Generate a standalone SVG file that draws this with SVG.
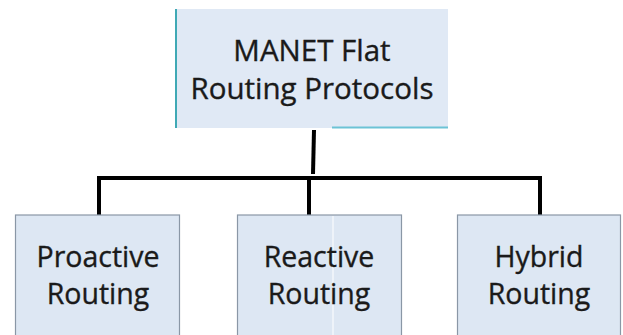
<svg xmlns="http://www.w3.org/2000/svg" width="623" height="335" viewBox="0 0 623 335">
<style>
.box{fill:#dde7f3;stroke:#8a97a6;stroke-width:1.2}
.lbl{font-family:"Open Sans","Liberation Sans",sans-serif;font-size:28.5px;fill:#1a1a1a;stroke:#1a1a1a;stroke-width:0.35;text-anchor:middle}
.big{font-size:29.5px}
.conn{fill:none;stroke:#000;stroke-width:4;stroke-linejoin:miter}
</style>
<rect width="623" height="335" fill="#fff"/>
<g id="root">
<rect x="175" y="9" width="273" height="119" fill="#e0e9f5"/>
<line x1="176" y1="9" x2="176" y2="128" stroke="#3fa9b5" stroke-width="2"/>
<line x1="332" y1="127.5" x2="448" y2="127.5" stroke="#6cc3d6" stroke-width="2"/>
<text class="lbl big" x="312" y="61">MANET Flat</text>
<text class="lbl big" x="312" y="99">Routing Protocols</text>
</g>
<g id="connectors">
<line class="conn" x1="314" y1="130" x2="313" y2="174"/>
<polyline class="conn" points="99,215 99,178 540,178 540,215"/>
<line class="conn" x1="309" y1="178" x2="309" y2="215"/>
</g>
<g id="proactive">
<rect class="box" x="15.5" y="215" width="164" height="125"/>
<text class="lbl" x="98" y="267">Proactive</text>
<text class="lbl" x="98" y="304">Routing</text>
</g>
<g id="reactive">
<rect class="box" x="237.5" y="215" width="164" height="125"/>
<line x1="333" y1="216" x2="333" y2="335" stroke="#fff" stroke-width="1"/>
<text class="lbl" x="319" y="267">Reactive</text>
<text class="lbl" x="319" y="304">Routing</text>
</g>
<g id="hybrid">
<rect class="box" x="457.5" y="215" width="163" height="125"/>
<text class="lbl" x="539" y="267">Hybrid</text>
<text class="lbl" x="539" y="304">Routing</text>
</g>
</svg>
